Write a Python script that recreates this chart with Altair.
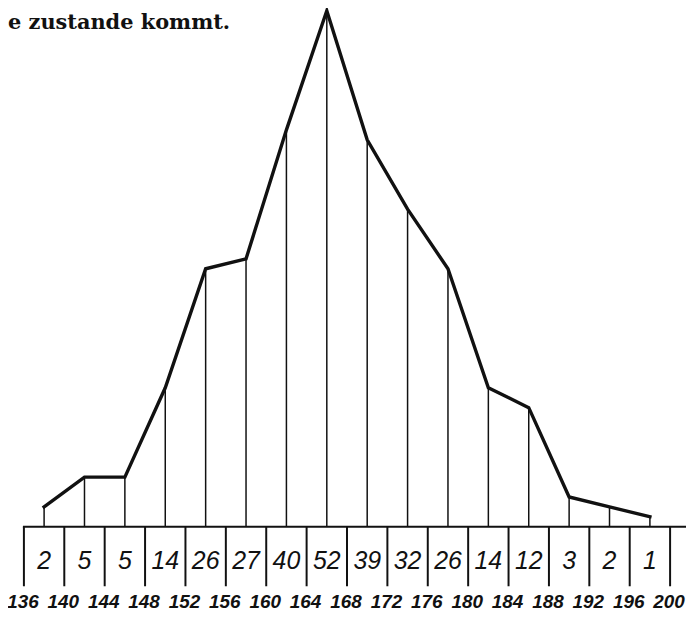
import altair as alt
import pandas as pd

# class intervals (lower bounds), frequencies, and axis tick labels
lower = [136, 140, 144, 148, 152, 156, 160, 164, 168, 172, 176, 180, 184, 188, 192, 196]
counts = [2, 5, 5, 14, 26, 27, 40, 52, 39, 32, 26, 14, 12, 3, 2, 1]
bounds = [136, 140, 144, 148, 152, 156, 160, 164, 168, 172, 176, 180, 184, 188, 192, 196, 200]
header = "e zustande kommt."

# layout helpers (in data units of the shared scales)
TABLE_DEPTH = -6
COUNT_ROW = -3.5
LABEL_ROW = -7.6

cls = pd.DataFrame({"mid": [l + 2 for l in lower], "count": counts})
cls["zero"] = 0
cls["row"] = COUNT_ROW
bnd = pd.DataFrame({"bound": bounds})
bnd["zero"] = 0
bnd["depth"] = TABLE_DEPTH
bnd["row"] = LABEL_ROW
base_df = pd.DataFrame({"x0": [135.9], "x1": [202.0], "y": [0]})
head_df = pd.DataFrame({"t": [header]})

xs = alt.Scale(domain=[136, 200], range=[16, 666], nice=False, zero=False)
ys = alt.Scale(domain=[0, 52], range=[520, 1], nice=False, zero=False)
INK = "#111111"

baseline = alt.Chart(base_df).mark_rule(color=INK, strokeWidth=2).encode(
    x=alt.X("x0:Q", scale=xs, axis=None),
    x2="x1:Q",
    y=alt.Y("y:Q", scale=ys, axis=None),
)

separators = alt.Chart(bnd).mark_rule(color=INK, strokeWidth=2).encode(
    x=alt.X("bound:Q", scale=xs, axis=None),
    y=alt.Y("zero:Q", scale=ys, axis=None),
    y2="depth:Q",
)

verticals = alt.Chart(cls).mark_rule(color=INK, strokeWidth=1.5).encode(
    x=alt.X("mid:Q", scale=xs, axis=None),
    y=alt.Y("zero:Q", scale=ys, axis=None),
    y2="count:Q",
)

polygon = alt.Chart(cls).mark_line(
    color=INK, strokeWidth=3.4, strokeJoin="miter", strokeCap="square"
).encode(
    x=alt.X("mid:Q", scale=xs, axis=None),
    y=alt.Y("count:Q", scale=ys, axis=None),
)

count_text = alt.Chart(cls).mark_text(
    font="Liberation Sans", fontStyle="italic", fontSize=25, color=INK,
    align="center", baseline="middle",
).encode(
    x=alt.X("mid:Q", scale=xs, axis=None),
    y=alt.Y("row:Q", scale=ys, axis=None),
    text=alt.Text("count:Q", format="d"),
)

bound_text = alt.Chart(bnd).mark_text(
    font="Liberation Sans Narrow, Liberation Sans",
    fontStyle="italic", fontWeight="bold", fontSize=19, color=INK,
    align="center", baseline="middle", dx=-1,
).encode(
    x=alt.X("bound:Q", scale=xs, axis=None),
    y=alt.Y("row:Q", scale=ys, axis=None),
    text=alt.Text("bound:Q", format="d"),
)

head = alt.Chart(head_df).mark_text(
    font="DejaVu Serif", fontWeight="bold", fontSize=21, color=INK,
    align="left", baseline="alphabetic",
).encode(
    x=alt.value(0),
    y=alt.value(19),
    text="t:N",
)

chart = alt.layer(
    baseline, separators, verticals, polygon, count_text, bound_text, head
).properties(
    width=682, height=606,
    autosize=alt.AutoSizeParams(type="none"),
    padding=0,
    background="white",
).configure_view(strokeWidth=0)

chart.save("out.html", embed_options={"renderer": "svg", "actions": False})
